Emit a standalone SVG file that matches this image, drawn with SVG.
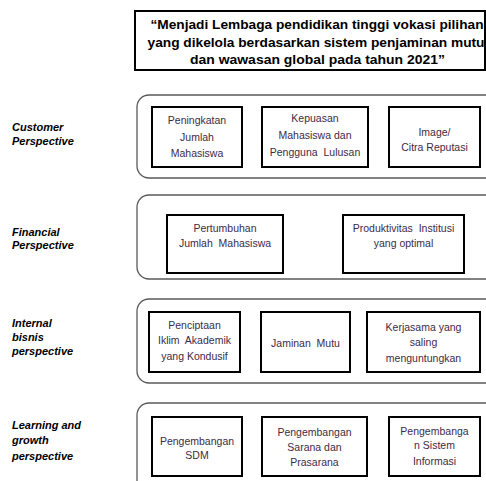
<svg xmlns="http://www.w3.org/2000/svg" width="486" height="481" viewBox="0 0 486 481">
<style>
.bg{fill:#fff}
.lane{fill:#fff;stroke:#5a5a5a;stroke-width:1.3}
.box{fill:#fff;stroke:#000;stroke-width:2}
.t{font-family:"Liberation Sans",Arial,sans-serif;font-size:10.5px;fill:#3e2a46;text-anchor:middle}
.lbl{font-family:"Liberation Sans",Arial,sans-serif;font-size:11px;font-weight:bold;font-style:italic;fill:#000}
.title{font-family:"Liberation Sans",Arial,sans-serif;font-size:13.5px;font-weight:bold;fill:#000;text-anchor:middle}
</style>
<rect class="bg" x="0" y="0" width="486" height="481"/>
<g id="vision">
<rect x="135" y="11" width="350" height="59" fill="#fff" stroke="#000" stroke-width="2"/>
<text class="title" x="317" y="29" textLength="333" lengthAdjust="spacingAndGlyphs">“Menjadi Lembaga pendidikan tinggi vokasi pilihan</text>
<text class="title" x="316" y="46.5" textLength="337" lengthAdjust="spacingAndGlyphs">yang dikelola berdasarkan sistem penjaminan mutu</text>
<text class="title" x="317.5" y="64" textLength="255" lengthAdjust="spacingAndGlyphs">dan wawasan global pada tahun 2021”</text>
</g>
<g id="lanes">
<rect class="lane" x="137" y="95" width="370" height="83" rx="12"/>
<rect class="lane" x="137" y="195" width="370" height="84" rx="12"/>
<rect class="lane" x="137" y="299" width="370" height="84" rx="12"/>
<rect class="lane" x="137" y="403" width="370" height="95" rx="12"/>
</g>
<g id="labels">
<text class="lbl" x="12" y="131">Customer</text>
<text class="lbl" x="12" y="145">Perspective</text>
<text class="lbl" x="12" y="236">Financial</text>
<text class="lbl" x="12" y="249">Perspective</text>
<text class="lbl" x="12" y="327">Internal</text>
<text class="lbl" x="12" y="341">bisnis</text>
<text class="lbl" x="12" y="355">perspective</text>
<text class="lbl" x="12" y="429">Learning and</text>
<text class="lbl" x="12" y="444">growth</text>
<text class="lbl" x="12" y="460">perspective</text>
</g>
<g id="c1">
<rect class="box" x="152" y="107" width="90" height="60"/>
<text class="t" x="197" y="124">Peningkatan</text>
<text class="t" x="197" y="141">Jumlah</text>
<text class="t" x="197" y="157">Mahasiswa</text>
</g>
<g id="c2">
<rect class="box" x="262" y="107" width="106" height="60"/>
<text class="t" x="315" y="122">Kepuasan</text>
<text class="t" x="315" y="139">Mahasiswa dan</text>
<text class="t" x="315" y="156" xml:space="preserve">Pengguna  Lulusan</text>
</g>
<g id="c3">
<rect class="box" x="389" y="107" width="91" height="60"/>
<text class="t" x="434.5" y="136">Image/</text>
<text class="t" x="434.5" y="151">Citra Reputasi</text>
</g>
<g id="f1">
<rect class="box" x="167" y="215" width="116" height="58"/>
<text class="t" x="225" y="232">Pertumbuhan</text>
<text class="t" x="225" y="247" xml:space="preserve">Jumlah  Mahasiswa</text>
</g>
<g id="f2">
<rect class="box" x="343" y="215" width="121" height="58"/>
<text class="t" x="403.5" y="232" xml:space="preserve">Produktivitas  Institusi</text>
<text class="t" x="403.5" y="247">yang optimal</text>
</g>
<g id="i1">
<rect class="box" x="149" y="312" width="91" height="60"/>
<text class="t" x="194.5" y="329">Penciptaan</text>
<text class="t" x="194.5" y="344" xml:space="preserve">Iklim  Akademik</text>
<text class="t" x="194.5" y="360">yang Kondusif</text>
</g>
<g id="i2">
<rect class="box" x="261" y="312" width="89" height="60"/>
<text class="t" x="305.5" y="347" xml:space="preserve">Jaminan  Mutu</text>
</g>
<g id="i3">
<rect class="box" x="367" y="312" width="113" height="60"/>
<text class="t" x="423.5" y="331">Kerjasama yang</text>
<text class="t" x="423.5" y="346">saling</text>
<text class="t" x="423.5" y="362">menguntungkan</text>
</g>
<g id="l1">
<rect class="box" x="152" y="417" width="90" height="59"/>
<text class="t" x="197" y="445">Pengembangan</text>
<text class="t" x="197" y="459">SDM</text>
</g>
<g id="l2">
<rect class="box" x="262" y="417" width="105" height="59"/>
<text class="t" x="314.5" y="436">Pengembangan</text>
<text class="t" x="314.5" y="451">Sarana dan</text>
<text class="t" x="314.5" y="466">Prasarana</text>
</g>
<g id="l3">
<rect class="box" x="389" y="417" width="91" height="59"/>
<text class="t" x="434.5" y="435">Pengembanga</text>
<text class="t" x="434.5" y="449">n Sistem</text>
<text class="t" x="434.5" y="465">Informasi</text>
</g>
<g id="connectors"/>
</svg>
